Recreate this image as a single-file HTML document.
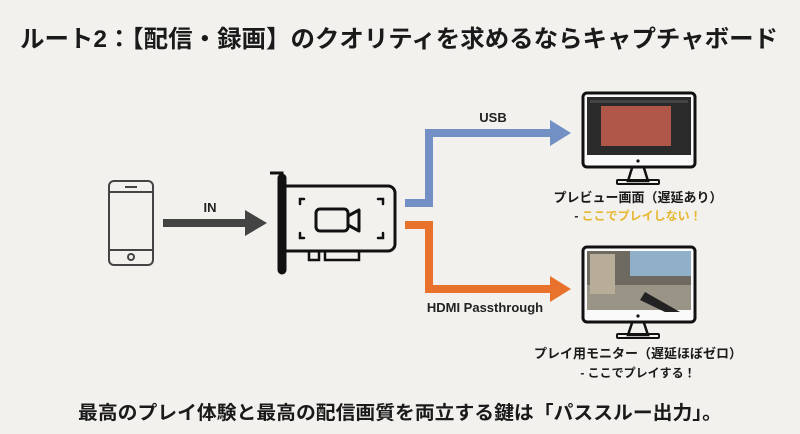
<!DOCTYPE html>
<html><head><meta charset="utf-8"><style>
html,body{margin:0;padding:0;background:#f2f1ee;}
svg{display:block}
text{font-family:"Liberation Sans","Noto Sans CJK JP",sans-serif;font-weight:bold;}
</style></head><body>
<svg width="800" height="434" viewBox="0 0 800 434" xmlns="http://www.w3.org/2000/svg">
<rect width="800" height="434" fill="#f2f1ee"/>
<text x="399" y="47" font-size="24" text-anchor="middle" fill="#1a1a1a" textLength="758" lengthAdjust="spacingAndGlyphs">ルート2：【配信・録画】のクオリティを求めるならキャプチャボード</text>
<text x="400" y="419" font-size="19" text-anchor="middle" fill="#1a1a1a" textLength="644" lengthAdjust="spacingAndGlyphs">最高のプレイ体験と最高の配信画質を両立する鍵は「パススルー出力」。</text>

<!-- phone -->
<rect x="109" y="181" width="44" height="84" rx="5" fill="none" stroke="#444" stroke-width="2"/>
<line x1="109" y1="192" x2="153" y2="192" stroke="#444" stroke-width="2"/>
<line x1="109" y1="250" x2="153" y2="250" stroke="#444" stroke-width="2"/>
<line x1="125" y1="187" x2="137" y2="187" stroke="#444" stroke-width="2"/>
<circle cx="131" cy="257" r="3" fill="none" stroke="#444" stroke-width="2"/>

<!-- IN arrow -->
<text x="210" y="212" font-size="13" text-anchor="middle" fill="#222">IN</text>
<rect x="163" y="219" width="88" height="8" fill="#444"/>
<polygon points="245,210 267,223 245,236" fill="#444"/>

<!-- capture card -->
<path d="M270 173 H282 V273" fill="none" stroke="#111" stroke-width="3"/>
<rect x="279" y="175" width="6" height="98" rx="3" fill="none" stroke="#111" stroke-width="3"/>
<path d="M285 186 H388 a7 7 0 0 1 7 7 V244 a7 7 0 0 1 -7 7 H285" fill="none" stroke="#111" stroke-width="3"/>
<rect x="309" y="251" width="10" height="9" fill="none" stroke="#111" stroke-width="2.5"/>
<rect x="325" y="251" width="34" height="9" fill="none" stroke="#111" stroke-width="2.5"/>
<g fill="none" stroke="#111" stroke-width="2.5" stroke-linecap="round">
<path d="M300 204 V199 H304"/><path d="M383 204 V199 H378"/>
<path d="M300 233 V238 H304"/><path d="M383 233 V238 H378"/>
</g>
<rect x="316" y="209" width="32" height="22" rx="4" fill="none" stroke="#111" stroke-width="3"/>
<path d="M348 216 L359 210 V231 L348 225" fill="none" stroke="#111" stroke-width="3" stroke-linejoin="round"/>

<!-- USB arrow -->
<text x="493" y="122" font-size="13" text-anchor="middle" fill="#222">USB</text>
<path d="M405 203 H429 V133 H552" fill="none" stroke="#7290c4" stroke-width="8"/>
<polygon points="550,120 571,133 550,146" fill="#7290c4"/>

<!-- HDMI arrow -->
<path d="M405 225 H429 V289 H552" fill="none" stroke="#e8722c" stroke-width="8"/>
<polygon points="550,276 571,289 550,302" fill="#e8722c"/>
<text x="485" y="312" font-size="13" text-anchor="middle" fill="#222">HDMI Passthrough</text>

<!-- Monitor 1 -->
<rect x="583" y="93" width="112" height="74" rx="4" fill="#fafafa" stroke="#111" stroke-width="3"/>
<rect x="587" y="97" width="104" height="58" fill="#2a2a2a"/>
<rect x="601" y="106" width="70" height="40" fill="#b0574a"/>
<rect x="590" y="100" width="98" height="3" fill="#444"/>
<circle cx="638" cy="161" r="1.6" fill="#111"/>
<path d="M632 168 L628 181 H648 L644 168" fill="none" stroke="#111" stroke-width="2.5"/>
<rect x="617" y="180" width="42" height="4" rx="1" fill="none" stroke="#111" stroke-width="2"/>
<text x="638" y="202" font-size="13" text-anchor="middle" fill="#1a1a1a">プレビュー画面（遅延あり）</text>
<text x="638" y="220" font-size="12" text-anchor="middle" fill="#1a1a1a">- <tspan fill="#e6b730">ここでプレイしない！</tspan></text>

<!-- Monitor 2 -->
<rect x="583" y="247" width="112" height="75" rx="4" fill="#fafafa" stroke="#111" stroke-width="3"/>
<rect x="587" y="251" width="104" height="59" fill="#6e6a62"/>
<rect x="630" y="251" width="61" height="25" fill="#8fb0c8"/>
<rect x="587" y="285" width="104" height="25" fill="#9a9486"/>
<rect x="590" y="254" width="25" height="40" fill="#b8ad98"/>
<path d="M645 292 L680 312 L665 312 L640 300Z" fill="#222"/>
<circle cx="638" cy="316" r="1.6" fill="#111"/>
<path d="M632 323 L628 335 H648 L644 323" fill="none" stroke="#111" stroke-width="2.5"/>
<rect x="617" y="334" width="42" height="4" rx="1" fill="none" stroke="#111" stroke-width="2"/>
<text x="638" y="358" font-size="13" text-anchor="middle" fill="#1a1a1a">プレイ用モニター（遅延ほぼゼロ）</text>
<text x="638" y="377" font-size="12" text-anchor="middle" fill="#1a1a1a">- ここでプレイする！</text>
</svg>
</body></html>
